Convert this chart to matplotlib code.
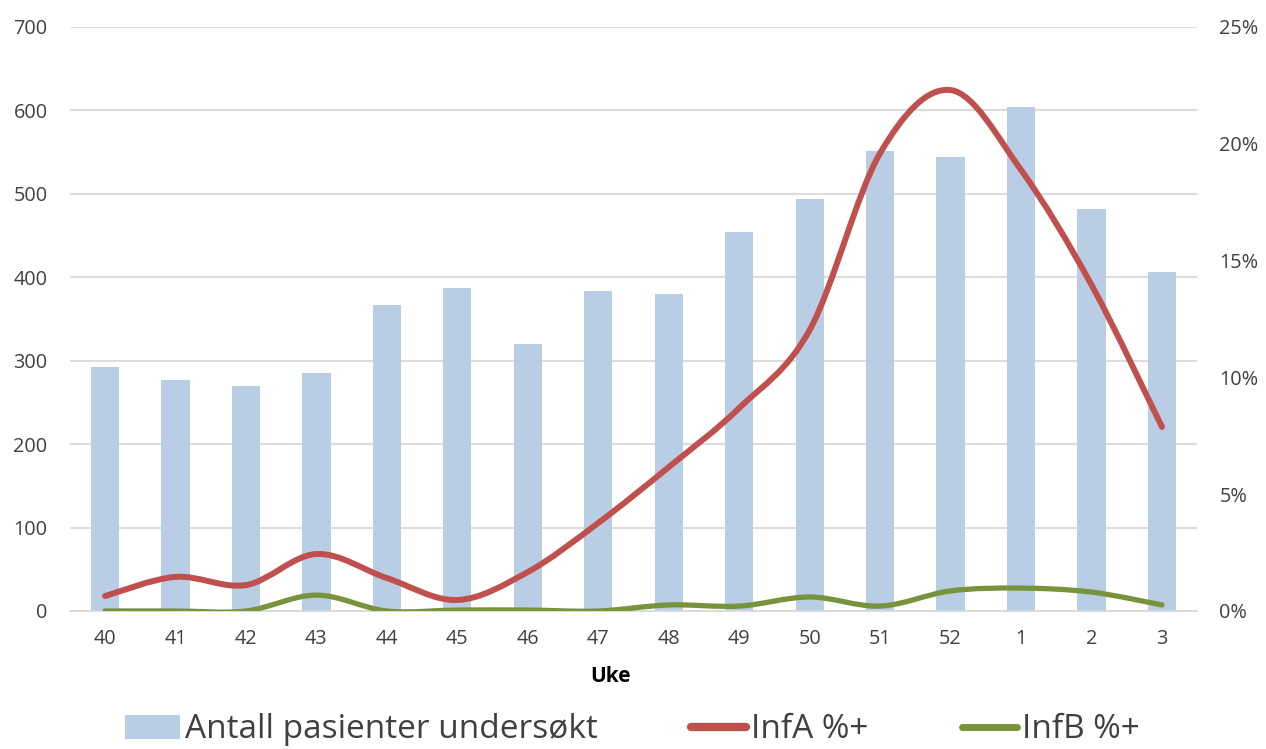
import matplotlib
matplotlib.use("Agg")
import matplotlib.pyplot as plt
import numpy as np
from matplotlib.path import Path
from matplotlib.patches import PathPatch, Patch
from matplotlib.lines import Line2D
from matplotlib.ticker import PercentFormatter

plt.rcParams['font.family'] = ['Open Sans', 'DejaVu Sans']

weeks = ["40", "41", "42", "43", "44", "45", "46", "47", "48", "49", "50", "51", "52", "1", "2", "3"]
patients = [293, 277, 270, 285, 367, 387, 320, 384, 380, 454, 494, 551, 544, 604, 482, 406]
infA = [0.64, 1.46, 1.11, 2.44, 1.41, 0.47, 1.67, 3.77, 6.16, 8.69, 12.03, 19.6, 22.3, 18.88, 13.96, 7.88]
infB = [0.0, 0.0, 0.0, 0.68, 0.0, 0.04, 0.04, 0.0, 0.26, 0.21, 0.6, 0.21, 0.86, 0.98, 0.81, 0.26]

bar_color = "#B9CDE5"
red = "#C0504D"
green = "#77933C"
grid_color = "#D9D9D9"
text_color = "#404040"

fig = plt.figure(figsize=(12.66, 7.49), dpi=100)
W, H = 1266, 749
ax = fig.add_axes([69.8 / W, 1 - 611 / H, (1197.2 - 69.8) / W, (611 - 27) / H])
ax2 = ax.twinx()

x = np.arange(len(weeks))
ax.bar(x, patients, width=0.4, color=bar_color, zorder=2)
ax.set_xlim(-0.5, len(weeks) - 0.5)
ax.set_ylim(0, 700)
ax.set_yticks(range(0, 701, 100))
ax.yaxis.grid(True, color=grid_color, linewidth=1.3, zorder=0)
ax.set_axisbelow(True)
ax.set_xticks(x)
ax.set_xticklabels(weeks)
for a in (ax, ax2):
    for s in a.spines.values():
        s.set_visible(False)
ax.spines['bottom'].set_visible(True)
ax.spines['bottom'].set_color(grid_color)
ax.spines['bottom'].set_linewidth(1.3)
ax.tick_params(axis='both', length=0, labelsize=14.3, colors=text_color, pad=16)
ax.tick_params(axis='x', pad=13)

fig.text(610 / W, 1 - 677 / H, "Uke", fontsize=15, fontweight='bold', color='black',
         ha='center', va='center')

ax2.set_ylim(0, 25)
ax2.set_yticks(range(0, 26, 5))
ax2.yaxis.set_major_formatter(PercentFormatter(decimals=0))
ax2.tick_params(axis='y', length=0, labelsize=14.3, colors=text_color, pad=16)


def smooth_path(xs, ys):
    xs = np.asarray(xs, float)
    ys = np.asarray(ys, float)
    n = len(xs)
    verts = [(xs[0], ys[0])]
    codes = [Path.MOVETO]
    for i in range(n - 1):
        p0 = (xs[max(i - 1, 0)], ys[max(i - 1, 0)])
        p1 = (xs[i], ys[i])
        p2 = (xs[i + 1], ys[i + 1])
        p3 = (xs[min(i + 2, n - 1)], ys[min(i + 2, n - 1)])
        c1 = (p1[0] + (p2[0] - p0[0]) / 6, p1[1] + (p2[1] - p0[1]) / 6)
        c2 = (p2[0] - (p3[0] - p1[0]) / 6, p2[1] - (p3[1] - p1[1]) / 6)
        verts += [c1, c2, p2]
        codes += [Path.CURVE4] * 3
    return Path(verts, codes)


for vals, col, lw in ((infB, green, 3.8), (infA, red, 4.3)):
    patch = PathPatch(smooth_path(x, vals), facecolor='none', edgecolor=col,
                      linewidth=lw, capstyle='round', joinstyle='round', zorder=3)
    ax2.add_patch(patch)

handles = [Patch(facecolor=bar_color, edgecolor='none'),
           Line2D([0], [0], color=red, lw=6, solid_capstyle='round'),
           Line2D([0], [0], color=green, lw=5, solid_capstyle='round')]
labels = ["Antall pasienter undersøkt", "InfA %+", "InfB %+"]
leg = fig.legend(handles, labels, loc='center', bbox_to_anchor=(632 / W, 1 - 730 / H),
                 ncol=3, frameon=False, fontsize=24, handlelength=1.65,
                 handletextpad=0.15, columnspacing=2.8, labelcolor=text_color,
                 borderpad=0, borderaxespad=0)

fig.savefig("out.png", dpi=100)
